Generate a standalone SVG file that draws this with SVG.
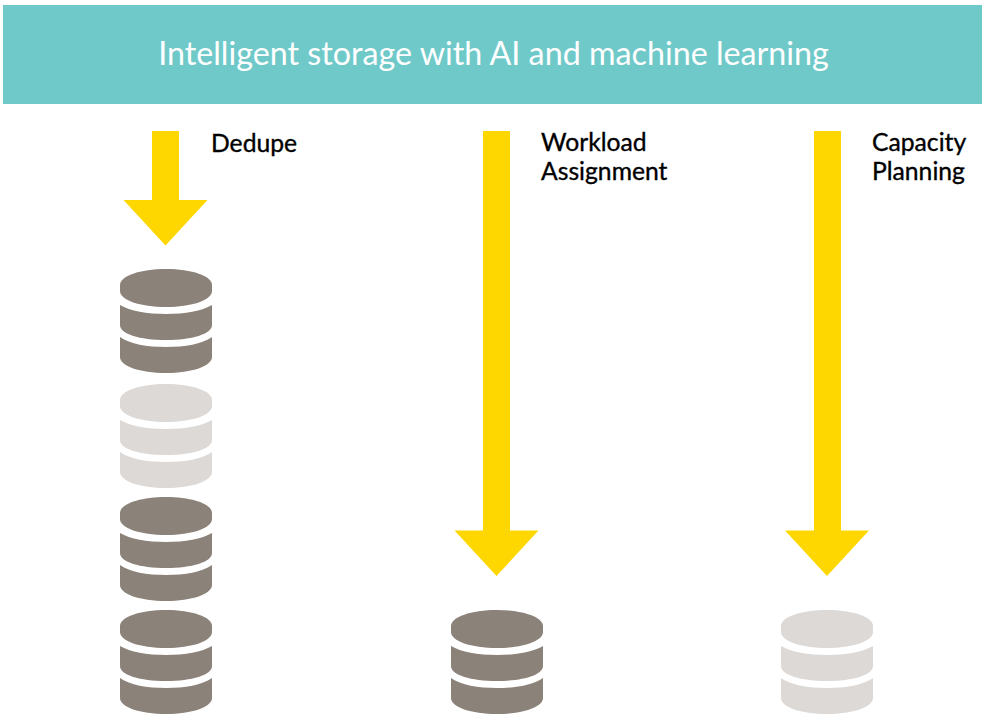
<svg xmlns="http://www.w3.org/2000/svg" width="982" height="715" viewBox="0 0 982 715">
<style>
text{font-family:Lato,"Open Sans",sans-serif}
.title{font-size:32.250px;fill:#fff}
.label{font-size:24.700px;fill:#000;stroke:#000;stroke-width:.35px}
.arrow{fill:#ffd700}
.dark{fill:#8b8279}
.light{fill:#dcd9d6}
</style>
<defs>
<g id="db">
<path d="M0 16C0 7 20 0 46 0S92 7 92 16V22C92 31 72 38 46 38S0 31 0 22Z"/>
<path d="M0 36C10 42 27 45 46 45S82 42 92 36V56C92 65 72 71 46 71S0 65 0 56Z"/>
<path d="M0 68C10 75 27 78 46 78S82 75 92 68V88C92 97 72 104 46 104S0 97 0 88Z"/>
</g>
</defs>
<rect width="982" height="715" fill="#fff"/>
<g id="banner">
<rect x="3" y="5" width="979" height="99" fill="#70c9c9"/>
<text class="title" x="493.500" y="64.500" text-anchor="middle">Intelligent storage with AI and machine learning</text>
</g>
<g id="connectors">
<path class="arrow" d="M152 131H179V200H207.500L165.500 245.500L123.500 200H152Z"/>
<path class="arrow" d="M483 131H510V530.500H538.500L496.500 576L454.500 530.500H483Z"/>
<path class="arrow" d="M814 131H841V530.500H869L827 576L785 530.500H814Z"/>
</g>
<g id="label-dedupe"><text class="label" x="211" y="152">Dedupe</text></g>
<g id="label-workload"><text class="label" x="541" y="151">Workload</text><text class="label" x="541" y="180">Assignment</text></g>
<g id="label-capacity"><text class="label" x="872" y="151">Capacity</text><text class="label" x="872" y="180">Planning</text></g>
<g id="db-1"><use href="#db" class="dark" x="120" y="269"/></g>
<g id="db-2"><use href="#db" class="light" x="120" y="384"/></g>
<g id="db-3"><use href="#db" class="dark" x="120" y="497"/></g>
<g id="db-4"><use href="#db" class="dark" x="120" y="610"/></g>
<g id="db-5"><use href="#db" class="dark" x="451" y="610"/></g>
<g id="db-6"><use href="#db" class="light" x="781" y="610"/></g>
</svg>
